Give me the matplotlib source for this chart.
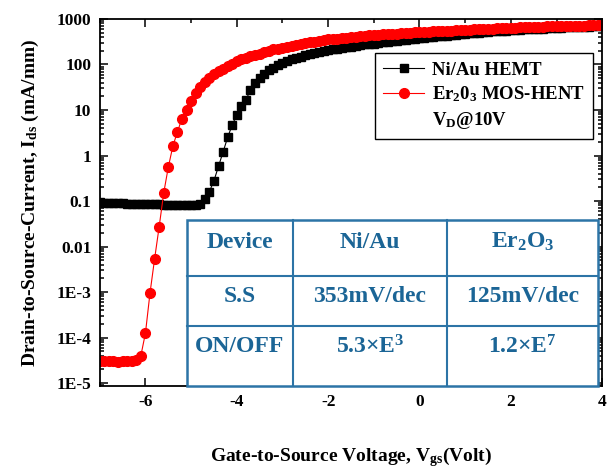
import numpy as np
import matplotlib
matplotlib.use("Agg")
import matplotlib.pyplot as plt
from matplotlib.lines import Line2D
from matplotlib.patches import Rectangle
from matplotlib.ticker import FixedLocator, FixedFormatter, LogLocator, NullFormatter, MultipleLocator

plt.rcParams['font.family'] = ['Liberation Serif', 'DejaVu Serif']
plt.rcParams['font.weight'] = 'bold'
plt.rcParams['axes.unicode_minus'] = False
plt.rcParams['mathtext.fontset'] = 'custom'
plt.rcParams['mathtext.rm'] = 'Liberation Serif:bold'
plt.rcParams['mathtext.it'] = 'Liberation Serif:bold:italic'
plt.rcParams['mathtext.bf'] = 'Liberation Serif:bold'

# ---- data ----
vgs = np.round(np.arange(-7.0, 4.0001, 0.1), 1)

ids_niau = [
    0.093, 0.092, 0.091, 0.090, 0.090, 0.089, 0.088, 0.088, 0.087, 0.086,
    0.086, 0.085, 0.084, 0.084, 0.083, 0.082, 0.082, 0.081, 0.081, 0.080,
    0.080, 0.080, 0.088, 0.11, 0.16, 0.28, 0.58, 1.2, 2.5, 4.7,
    7.8, 12, 17, 27, 40, 50, 62, 74, 85, 98,
    107, 117, 129, 138, 148, 158, 170, 178, 186, 195,
    204, 214, 224, 232, 240, 248, 257, 266, 275, 282,
    288, 299, 309, 316, 324, 331, 343, 351, 359, 367,
    376, 385, 394, 403, 412, 422, 432, 442, 452, 462,
    473, 484, 490, 501, 513, 519, 531, 537, 550, 556,
    562, 569, 582, 589, 596, 603, 610, 617, 624, 631,
    638, 646, 653, 661, 661, 668, 676, 676, 684, 692,
    692,
]

ids_er2o3 = [
    3.1e-5, 3.0e-5, 3.0e-5, 3.0e-5, 2.9e-5, 3.0e-5, 3.0e-5, 3.0e-5, 3.2e-5, 4.0e-5,
    1.25e-4, 9.5e-4, 5.3e-3, 0.027, 0.15, 0.55, 1.6, 3.3, 6.5, 10.2,
    15.5, 23.4, 32.4, 41.7, 51.3, 60.3, 70.8, 81.3, 93.3, 105,
    117, 129, 141, 151, 162, 174, 186, 200, 214, 224,
    234, 245, 257, 269, 282, 295, 309, 316, 331, 339,
    355, 363, 372, 380, 389, 398, 407, 417, 427, 437,
    447, 452, 457, 468, 473, 479, 490, 495, 501, 507,
    513, 519, 525, 531, 537, 543, 550, 556, 562, 569,
    575, 582, 589, 596, 603, 610, 617, 624, 631, 631,
    638, 646, 653, 661, 661, 668, 676, 676, 684, 692,
    692, 700, 700, 708, 708, 716, 716, 724, 724, 733,
    733,
]

ytick_vals = [1e-5, 1e-4, 1e-3, 1e-2, 1e-1, 1, 10, 100, 1000]
ytick_labels = ['1E-5', '1E-4', '1E-3', '0.01', '0.1', '1', '10', '100', '1000']
xtick_vals = [-6, -4, -2, 0, 2, 4]

legend_labels = ['Ni/Au HEMT', 'Er$_2$0$_3$ MOS-HENT', 'V$_\\mathrm{D}$@10V']

table_cells = [
    ['Device', 'Ni/Au', 'Er$_2$O$_3$'],
    ['S.S', '353mV/dec', '125mV/dec'],
    ['ON/OFF', '5.3\u00d7E$^3$', '1.2\u00d7E$^7$'],
]

# ---- figure ----
fig = plt.figure(figsize=(6.12, 4.74), dpi=100)
ax = fig.add_axes([0.163, 0.186, 0.821, 0.774])

ax.plot(vgs, ids_niau, '-s', color='black', lw=0.8, ms=6.3, mec='black', mfc='black',
        label=legend_labels[0])
ax.plot(vgs, ids_er2o3, '-o', color='red', lw=0.8, ms=7.0, mec='red', mfc='red',
        label=legend_labels[1])

ax.set_yscale('log')
ax.set_xlim(-7, 4)
ax.set_ylim(8.7e-6, 1000)
ax.yaxis.set_major_locator(FixedLocator(ytick_vals))
ax.yaxis.set_major_formatter(FixedFormatter(ytick_labels))
ax.yaxis.set_minor_locator(LogLocator(base=10, subs=np.arange(2, 10), numticks=20))
ax.yaxis.set_minor_formatter(NullFormatter())
ax.xaxis.set_major_locator(FixedLocator(xtick_vals))
ax.xaxis.set_minor_locator(MultipleLocator(1))

ax.tick_params(which='both', direction='in', top=True, right=True, width=1.1,
               labelsize=12.5, pad=6)
ax.tick_params(which='major', length=6)
ax.tick_params(which='minor', length=3)
for lab in ax.get_xticklabels() + ax.get_yticklabels():
    lab.set_fontweight('bold')
for sp in ax.spines.values():
    sp.set_linewidth(1.3)

ax.set_xlabel('Gate-to-Source Voltage, V$_{\\mathrm{gs}}$(Volt)', fontsize=14,
              fontweight='bold', labelpad=25)
ax.set_ylabel('Drain-to-Source-Current, I$_{\\mathrm{ds}}$ (mA/mm)', fontsize=14,
              fontweight='bold', labelpad=11)

handles, labels = ax.get_legend_handles_labels()
handles.append(Line2D([], [], linestyle='none', marker=None))
labels.append(legend_labels[2])
leg = ax.legend(handles, labels, loc='upper right', bbox_to_anchor=(0.982, 0.907),
                borderaxespad=0, fancybox=False, edgecolor='black', framealpha=1,
                prop={'family': 'Liberation Serif', 'weight': 'bold', 'size': 13.5},
                handlelength=2.2, handletextpad=0.4, labelspacing=0.3,
                borderpad=0.45)
leg.get_frame().set_linewidth(1.0)

# ---- inset table (pixel geometry converted to figure fraction) ----
W, H = 612.0, 474.0
col_edges = [187, 293, 447, 598]
row_edges = [220, 276, 326, 386]
text_y = [242, 297, 347]
line_color = '#2c74a6'
text_color = '#1b6596'

rect = Rectangle((col_edges[0] / W, 1 - row_edges[-1] / H),
                 (col_edges[-1] - col_edges[0]) / W,
                 (row_edges[-1] - row_edges[0]) / H,
                 transform=fig.transFigure, facecolor='white', edgecolor=line_color,
                 lw=1.8, zorder=10)
fig.add_artist(rect)
for cx in col_edges[1:-1]:
    fig.add_artist(Line2D([cx / W, cx / W], [1 - row_edges[0] / H, 1 - row_edges[-1] / H],
                          transform=fig.transFigure, color=line_color, lw=1.5, zorder=11))
for ry in row_edges[1:-1]:
    fig.add_artist(Line2D([col_edges[0] / W, col_edges[-1] / W], [1 - ry / H, 1 - ry / H],
                          transform=fig.transFigure, color=line_color, lw=1.5, zorder=11))
for r, row in enumerate(table_cells):
    for c, txt in enumerate(row):
        xc = (col_edges[c] + col_edges[c + 1]) / 2 / W
        fig.text(xc, 1 - text_y[r] / H, txt, ha='center', va='center', fontsize=17,
                 fontweight='bold', color=text_color, zorder=12)

fig.savefig('out.png', dpi=100)
